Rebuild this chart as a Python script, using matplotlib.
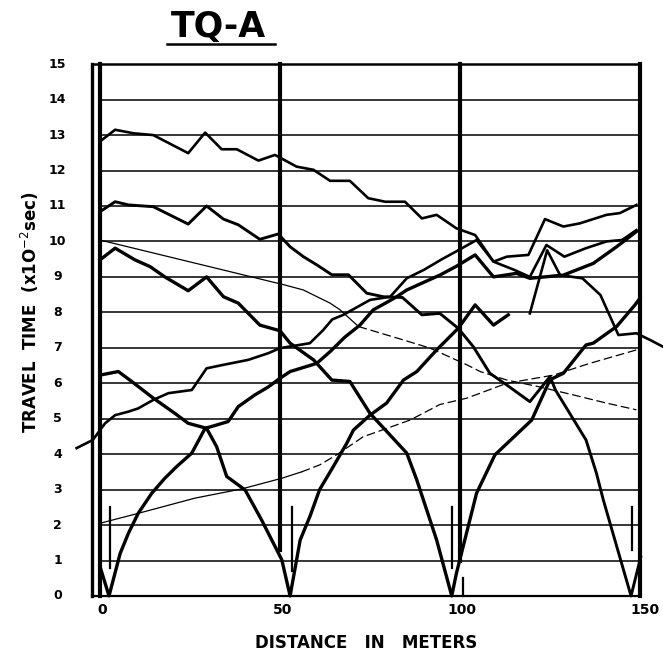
import matplotlib
matplotlib.use("Agg")
import matplotlib.pyplot as plt

plt.rcParams["font.family"] = "DejaVu Sans"

# travel time curves (x in meters, y in 1e-2 sec)
a_x = [0, 4.2, 9.3, 14.8, 24.5, 29.2, 33.8, 38, 44, 48.6, 54.6, 59.3, 63.9, 69.4, 74.5, 79.2, 84.7, 89.4,
       93.5, 99, 104.2, 109.3, 113, 119, 123.6, 128.7, 133.3, 140.7, 144.4, 149]
a_y = [12.82, 13.15, 13.05, 13.0, 12.49, 13.07, 12.6, 12.6, 12.28, 12.44, 12.11, 12.02, 11.71, 11.71, 11.22,
       11.12, 11.12, 10.65, 10.75, 10.37, 10.18, 9.43, 9.57, 9.62, 10.63, 10.42, 10.51, 10.75, 10.8, 11.03]

b_x = [0, 4.2, 7.9, 12, 14.8, 24.5, 29.6, 34.3, 38.4, 44.4, 49.5, 52.8, 56.5, 60.2, 64.4, 69, 74.1, 78.7,
       84, 89.4, 94.4, 99.5, 103.7, 108.3, 113, 119.4, 125, 126.5, 135, 137.9, 139.8, 147.5, 150.2]
b_y = [10.84, 11.12, 11.03, 11.0, 10.98, 10.49, 11.0, 10.63, 10.47, 10.06, 10.21, 9.85, 9.57, 9.34, 9.06,
       9.06, 8.54, 8.44, 8.42, 7.93, 7.97, 7.55, 7.03, 6.28, 5.95, 5.48, 6.19, 5.81, 4.4, 3.46, 2.71, 0.0, 1.1]

c_x = [-6.5, -2, 1.4, 4.2, 7.9, 10.6, 14.8, 19, 25.5, 29.6, 34.3, 41.2, 46.8, 50, 58.3, 62, 64.5, 67.6,
       75, 80.6, 85.2, 90, 95, 99.5, 104.6, 109.3, 115, 119.4, 124, 129, 135, 140.7, 145, 149]
c_y = [4.17, 4.4, 4.87, 5.1, 5.2, 5.29, 5.53, 5.72, 5.81, 6.42, 6.52, 6.66, 6.85, 6.99, 7.13, 7.5, 7.8, 7.93,
       8.35, 8.44, 8.96, 9.2, 9.5, 9.75, 10.04, 9.43, 9.2, 9.0, 9.9, 9.57, 9.81, 10.0, 10.04, 10.32]

d_x = [0, 2.5, 5.6, 7.9, 10.6, 14.4, 18, 21.3, 25.5, 29.2, 31, 35.6, 38.4, 43, 46.8, 50, 52.8, 60.2, 64,
       68, 72.2, 75.9, 80, 82.4, 85.2, 90, 94.4, 99, 104.2, 109.3, 115.7, 119.4, 128.7, 137, 143.5, 149]
d_y = [0.83, 0.0, 1.2, 1.77, 2.33, 2.9, 3.32, 3.65, 4.03, 4.73, 4.78, 4.92, 5.34, 5.67, 5.9, 6.14, 6.33,
       6.56, 6.9, 7.3, 7.64, 8.07, 8.3, 8.44, 8.63, 8.85, 9.05, 9.3, 9.62, 9.0, 9.1, 8.96, 9.05, 9.38, 9.85, 10.28]

e_x = [0, 5.1, 8.8, 14.8, 20.8, 24.5, 29.6, 32.4, 35.2, 40.3, 44.9, 47.7, 50.5, 52.8, 55.6, 58.3, 61,
       64.8, 68.5, 70.4, 75, 79.6, 84.3, 88, 93.5, 99.5, 104.2, 109.3, 113.4]
e_y = [6.23, 6.33, 6.05, 5.58, 5.15, 4.87, 4.73, 4.21, 3.37, 2.99, 2.14, 1.58, 1.02, 0.0, 1.58, 2.24, 3.0,
       3.65, 4.3, 4.68, 5.1, 5.44, 6.09, 6.33, 6.94, 7.55, 8.21, 7.64, 7.93]

h_x = [119.4, 124.2, 127.8, 134, 139, 144, 149, 152.8, 156.4]
h_y = [7.97, 9.75, 9.05, 8.96, 8.49, 7.36, 7.41, 7.22, 7.03]

f_x = [0, 4.2, 9.7, 13.9, 18, 24.5, 29.6, 34.3, 38.4, 44.4, 50, 52.8, 59.3, 64.4, 69.4, 75, 85.2, 88,
       93.5, 97.7, 99, 104.6, 109.7, 119.9, 125, 128.7, 135, 137, 143.5, 148.6, 150]
f_y = [9.48, 9.81, 9.48, 9.29, 9.0, 8.61, 9.0, 8.44, 8.26, 7.64, 7.48, 7.13, 6.66, 6.09, 6.05, 5.15, 4.03,
       3.27, 1.58, 0.0, 0.64, 2.9, 3.98, 4.96, 6.1, 6.28, 7.08, 7.13, 7.6, 8.21, 8.4]

# thin lines (solid part, dashed part)
t1_x = [0, 51.4, 56.5, 63.9, 66.7, 71.8]
t1_y = [10.04, 8.77, 8.63, 8.26, 8.07, 7.6]
t1d_x = [71.8, 84.3, 91.7, 101.9, 105.6, 113, 122, 131.5, 140.7, 149]
t1d_y = [7.6, 7.22, 6.99, 6.52, 6.33, 6.09, 5.9, 5.67, 5.44, 5.25]
t2_x = [0, 10.6, 26.4, 39.4, 50.5, 56]
t2_y = [2.05, 2.33, 2.76, 3.02, 3.32, 3.5]
t2d_x = [56, 61.1, 65.7, 73.1, 86.1, 94.4, 101.9, 113, 126, 136, 149]
t2d_y = [3.5, 3.7, 3.98, 4.49, 4.96, 5.4, 5.58, 6.0, 6.23, 6.56, 6.94]

# shot point markers: (x, y bottom, y top)
shots = [(2.8, 0.8, 2.5), (53.2, 0.7, 2.5), (97.7, 0.8, 2.5), (100.8, 0.0, 0.5), (147.7, 1.3, 2.5)]

x_ticks = [0, 50, 100, 150]
y_ticks = list(range(0, 16))

fig = plt.figure(figsize=(6.63, 6.56), dpi=100)
ax = fig.add_axes([0.1074, 0.0645, 0.8927, 0.8647])
ax.set_xlim(-8, 156.4)
ax.set_ylim(-0.5, 15.5)
ax.axis("off")

# grid
for v in range(1, 15):
    ax.plot([0, 150], [v, v], color="black", lw=1.1)
ax.plot([-2.3, 150], [15, 15], color="black", lw=1.8)
ax.plot([-2.3, 150], [0, 0], color="black", lw=1.6)
ax.plot([0, 0], [0, 15], color="black", lw=3.0)
ax.plot([-2.3, -2.3], [0, 15], color="black", lw=2.4)
ax.plot([50, 50], [1.3, 15], color="black", lw=3.0)
ax.plot([100, 100], [1.0, 15], color="black", lw=3.0)
ax.plot([150, 150], [0, 15], color="black", lw=3.0)

for sx, y0, y1 in shots:
    ax.plot([sx, sx], [y0, y1], color="black", lw=1.6)

# curves
ax.plot(a_x, a_y, color="black", lw=1.9)
ax.plot(b_x, b_y, color="black", lw=2.1)
ax.plot(c_x, c_y, color="black", lw=1.9, clip_on=False)
ax.plot(d_x, d_y, color="black", lw=2.4)
ax.plot(e_x, e_y, color="black", lw=2.4)
ax.plot(f_x, f_y, color="black", lw=2.4)
ax.plot(h_x, h_y, color="black", lw=1.9, clip_on=False)

ax.plot(t1_x, t1_y, color="black", lw=0.9)
ax.plot(t1d_x, t1d_y, color="black", lw=0.9, dashes=(7, 3))
ax.plot(t2_x, t2_y, color="black", lw=0.9)
ax.plot(t2d_x, t2d_y, color="black", lw=0.9, dashes=(7, 3))

# tick labels
for v in y_ticks:
    ax.text(-11.8, v, str(v), ha="center", va="center", fontsize=9, fontweight="bold")
for v in x_ticks:
    ax.text(v + (1.5 if v == 150 else 0.6), -0.4, str(v), ha="center", va="center",
            fontsize=10, fontweight="bold")

ax.text(-19.5, 8.0, "TRAVEL  TIME  (x1O$^{-2}$sec)", rotation=90, ha="center", va="center",
        fontsize=12, fontweight="bold")
ax.text(74, -1.33, "DISTANCE   IN   METERS", ha="center", va="center", fontsize=12, fontweight="bold")

ax.text(32.8, 16.05, "TQ-A", ha="center", va="center", fontsize=25, fontweight="bold", clip_on=False)
ax.plot([18.6, 48.6], [15.57, 15.57], color="black", lw=1.8, clip_on=False)

plt.savefig("out.png", dpi=100)
